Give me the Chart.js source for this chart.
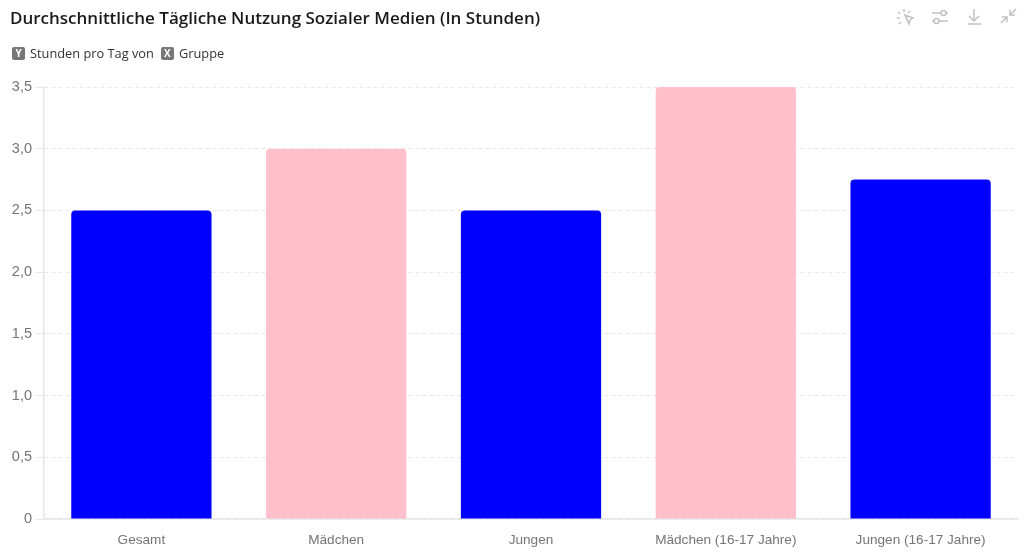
<!DOCTYPE html>
<html lang="de">
<head>
<meta charset="UTF-8" />
<title>Durchschnittliche Tägliche Nutzung Sozialer Medien</title>
<script src="https://cdn.jsdelivr.net/npm/chart.js"></script>
<style>
	html, body { margin: 0; padding: 0; background: #fff; width: 1024px; height: 560px; overflow: hidden; }
	#title { position: absolute; left: 10px; top: 6px; font: 600 17px "Open Sans", sans-serif; color: #1a1a1a; white-space: nowrap; }
	#legend { position: absolute; left: 12px; top: 44px; font: 12.8px "Open Sans", sans-serif; color: #333; white-space: nowrap; display: flex; align-items: center; height: 18px; }
	#legend b { display: inline-block; width: 13px; height: 13px; border-radius: 2px; background: #777; color: #fff; font: bold 10px/13px "Open Sans", sans-serif; text-align: center; margin-right: 5px; }
	#legend span { margin-right: 7px; }
	#tools { position: absolute; left: 0; top: 0; }
	#myChart { position: absolute; left: 0; top: 0; }
</style>
</head>
<body>
	<canvas id="myChart" width="1024" height="560"></canvas>
	<div id="title">Durchschnittliche Tägliche Nutzung Sozialer Medien (In Stunden)</div>
	<div id="legend"><b>Y</b><span>Stunden pro Tag von</span><b>X</b><span>Gruppe</span></div>
	<svg id="tools" width="1024" height="40" fill="none" stroke="#c2c2c2" stroke-width="1.5">
		<path d="M905 15l8 3-3 2-1 4zM904 9v3M898 12l2 2M897 18h3M899 24l2-2M910 11l-2 2" />
		<path d="M932 13h9M946 13h2M932 21h2M939 21h9" /><circle cx="943.500" cy="13" r="2.500" /><circle cx="936.500" cy="21" r="2.500" />
		<path d="M974 9v12M969 16l5 5 5-5M968 24h13" />
		<path d="M1016 9l-6 6M1010 10v5h5M1001 23l6-6M1002 17h5v5" />
	</svg>
	<script>
		const categories = ["Gesamt", "Mädchen", "Jungen", "Mädchen (16-17 Jahre)", "Jungen (16-17 Jahre)"];
		const hours = [2.5, 3, 2.5, 3.5, 2.75];
		const barColors = ["#0000ff", "#ffc0cb", "#0000ff", "#ffc0cb", "#0000ff"];

		const ctx = document.getElementById("myChart");
		const myChart = new Chart(ctx, {
			type: "bar",
			data: {
				labels: categories,
				datasets: [{
					label: "Stunden pro Tag",
					data: hours,
					backgroundColor: barColors,
					borderRadius: { topLeft: 4, topRight: 4 },
					borderSkipped: "bottom",
					categoryPercentage: 0.72,
					barPercentage: 1,
					clip: 4,
				}],
			},
			options: {
				responsive: false,
				animation: false,
				layout: { padding: { top: 87, right: 6, bottom: 0, left: 0 } },
				plugins: { legend: { display: false }, title: { display: false }, tooltip: { enabled: false } },
				scales: {
					x: {
						grid: { display: false },
						border: { color: "#e6e6e6", width: 1.5 },
						ticks: { color: "#757575", font: { family: "Liberation Sans", size: 13.6 }, padding: 5, maxRotation: 0 },
						afterFit: (scale) => { scale.height = 41; },
					},
					y: {
						min: 0,
						max: 3.5,
						grid: { color: "#e8e8e8", drawTicks: true, tickColor: "#e6e6e6", tickLength: 8 },
						border: { color: "#e6e6e6", width: 1.5, dash: [4, 3] },
						ticks: {
							stepSize: 0.5,
							color: "#757575",
							font: { family: "Liberation Sans", size: 14.5 },
							padding: 4,
							callback: (v) => (v === 0 ? "0" : v.toFixed(1).replace(".", ",")),
						},
						afterFit: (scale) => { scale.width = 44; },
					},
				},
			},
		});
	</script>
</body>
</html>
